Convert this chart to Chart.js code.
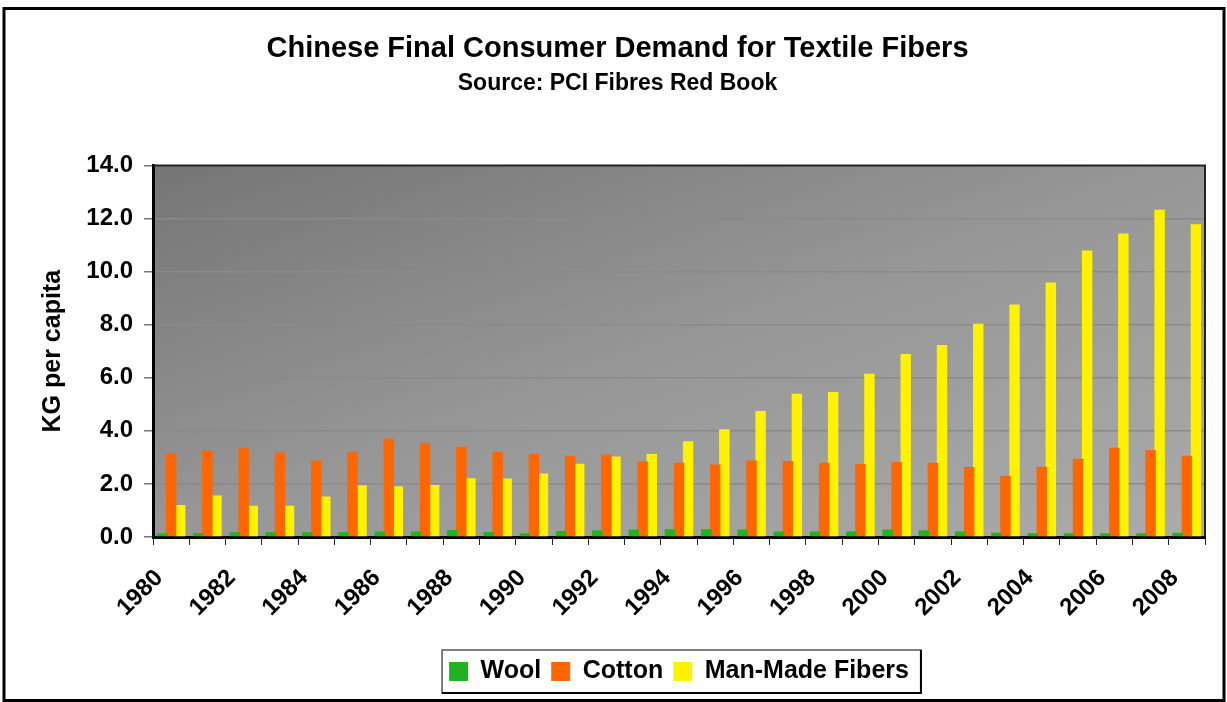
<!DOCTYPE html>
<html>
<head>
<meta charset="utf-8">
<title>Chinese Final Consumer Demand for Textile Fibers</title>
<script src="https://cdn.jsdelivr.net/npm/chart.js@4/dist/chart.umd.min.js"></script>
<style>
  html, body { margin: 0; padding: 0; background: #fff; }
  canvas { display: block; }
</style>
</head>
<body>
<canvas id="fibers" width="1227" height="702"></canvas>
<script>
const years = [
  '1980', '1981', '1982', '1983', '1984', '1985', '1986', '1987', '1988', '1989',
  '1990', '1991', '1992', '1993', '1994', '1995', '1996', '1997', '1998', '1999',
  '2000', '2001', '2002', '2003', '2004', '2005', '2006', '2007', '2008'
];

// kg per capita
const wool = [
  0.14, 0.15, 0.18, 0.18, 0.18, 0.18, 0.21, 0.21, 0.26, 0.19,
  0.14, 0.23, 0.25, 0.28, 0.29, 0.29, 0.28, 0.21, 0.21, 0.21,
  0.28, 0.25, 0.21, 0.16, 0.14, 0.14, 0.14, 0.14, 0.16
];
const cotton = [
  3.15, 3.26, 3.34, 3.18, 2.88, 3.21, 3.71, 3.55, 3.40, 3.21,
  3.14, 3.06, 3.11, 2.84, 2.80, 2.73, 2.88, 2.86, 2.80, 2.75,
  2.83, 2.80, 2.64, 2.31, 2.65, 2.95, 3.36, 3.28, 3.06
];
const manMade = [
  1.21, 1.56, 1.18, 1.18, 1.53, 1.95, 1.91, 1.96, 2.21, 2.20,
  2.39, 2.76, 3.03, 3.13, 3.61, 4.06, 4.75, 5.40, 5.46, 6.15,
  6.89, 7.23, 8.03, 8.76, 9.59, 10.79, 11.43, 12.33, 11.78
];

const yTicks = [0, 2, 4, 6, 8, 10, 12, 14];

Chart.defaults.font.family = '"Liberation Sans", Arial, sans-serif';
Chart.defaults.color = '#000';

const PAD_LEFT = 30;

// grey gradient behind the bars, plot outline, legend box and outer frame
const decorations = {
  id: 'decorations',
  beforeDraw(chart) {
    const { ctx, chartArea: a, width, height } = chart;
    ctx.save();
    ctx.fillStyle = '#fff';
    ctx.fillRect(0, 0, width, height);
    const w = a.width, h = a.height;
    const k = 2 / (1 / (w * w) + 1 / (h * h));
    const g = ctx.createLinearGradient(a.left, a.top, a.left + k / w, a.top + k / h);
    g.addColorStop(0, '#757575');
    g.addColorStop(0.5, '#979797');
    g.addColorStop(1, '#ababab');
    ctx.fillStyle = g;
    ctx.fillRect(a.left, a.top, w, h);
    ctx.restore();
  },
  afterDraw(chart) {
    const { ctx, chartArea: a } = chart;
    ctx.save();
    ctx.strokeStyle = '#222';
    ctx.lineWidth = 2;
    ctx.beginPath();
    ctx.moveTo(a.left, a.top);
    ctx.lineTo(a.right, a.top);
    ctx.lineTo(a.right, a.bottom);
    ctx.stroke();

    const boxes = chart.legend.legendHitBoxes;
    if (boxes && boxes.length) {
      const first = boxes[0], last = boxes[boxes.length - 1];
      const x0 = first.left - 7, x1 = last.left + last.width + 12;
      const y0 = first.top - 9, y1 = first.top + first.height + 9;
      ctx.strokeStyle = '#555';
      ctx.lineWidth = 1.5;
      ctx.strokeRect(x0, y0, x1 - x0, y1 - y0);
      ctx.strokeStyle = '#000';
      ctx.lineWidth = 2;
      ctx.beginPath();
      ctx.moveTo(x0, y1);
      ctx.lineTo(x1, y1);
      ctx.lineTo(x1, y0);
      ctx.stroke();
    }

    ctx.strokeStyle = '#000';
    ctx.lineWidth = 3;
    ctx.strokeRect(4, 8.5, 1220, 692);
    ctx.restore();
  }
};

new Chart(document.getElementById('fibers'), {
  type: 'bar',
  data: {
    labels: years,
    datasets: [
      { label: 'Wool', data: wool, backgroundColor: '#20b420' },
      { label: 'Cotton', data: cotton, backgroundColor: '#ff6600' },
      { label: 'Man-Made Fibers', data: manMade, backgroundColor: '#fff200' }
    ]
  },
  options: {
    responsive: false,
    animation: false,
    layout: { padding: { top: 12, left: PAD_LEFT, right: 22, bottom: 8 } },
    datasets: {
      // bars slightly wider than their slots so neighbours overlap a little
      bar: { categoryPercentage: 0.75, barPercentage: 1.15, borderWidth: 0 }
    },
    plugins: {
      title: {
        display: true,
        text: 'Chinese Final Consumer Demand for Textile Fibers',
        font: { size: 29, weight: 'bold' },
        padding: { top: 20, bottom: 3 }
      },
      subtitle: {
        display: true,
        text: 'Source: PCI Fibres Red Book',
        color: '#000',
        font: { size: 23, weight: 'bold' },
        padding: { top: 0, bottom: 68 }
      },
      legend: {
        position: 'bottom',
        fullSize: false,
        labels: {
          boxWidth: 19,
          boxHeight: 19,
          padding: 10,
          font: { size: 25, weight: 'bold' }
        }
      },
      tooltip: { enabled: false }
    },
    scales: {
      x: {
        afterFit(scale) { scale.height = 112; },
        border: { color: '#000', width: 3 },
        grid: {
          offset: true,
          drawOnChartArea: false,
          drawTicks: true,
          tickLength: 8,
          tickColor: '#222'
        },
        ticks: {
          autoSkip: false,
          minRotation: 45,
          maxRotation: 45,
          labelOffset: -12,
          padding: 19,
          font: { size: 24, weight: 'bold' },
          callback(value, index) {
            return index % 2 === 0 ? years[index] : '';
          }
        }
      },
      y: {
        min: yTicks[0],
        max: yTicks[yTicks.length - 1],
        afterFit(scale) { scale.width = 153 - PAD_LEFT; },
        afterBuildTicks(scale) {
          scale.ticks = yTicks.map(v => ({ value: v }));
        },
        border: { color: '#000', width: 3 },
        grid: {
          color: c => (c.tick && c.tick.value === 0 ? 'rgba(0,0,0,0)' : '#8a8a8a'),
          lineWidth: 1.5,
          tickLength: 9,
          tickColor: '#777'
        },
        ticks: {
          padding: 11,
          font: { size: 24, weight: 'bold' },
          callback: v => v.toFixed(1)
        },
        title: {
          display: true,
          text: 'KG per capita',
          font: { size: 25, weight: 'bold' },
          padding: { top: 8, bottom: 0 }
        }
      }
    }
  },
  plugins: [decorations]
});
</script>
</body>
</html>
